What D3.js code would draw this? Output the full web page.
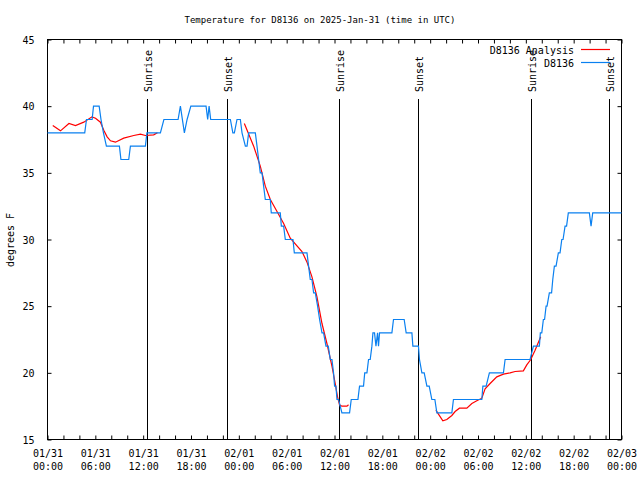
<!DOCTYPE html>
<html>
<head>
<meta charset="utf-8">
<script src="https://cdn.jsdelivr.net/npm/d3@7"></script>
<style>
  html, body { margin: 0; padding: 0; background: #fff; }
  svg { display: block; }
  text { font-family: "DejaVu Sans Mono", "Liberation Mono", monospace; fill: #000; }
</style>
</head>
<body>
<svg id="chart" width="640" height="480"></svg>
<script>
// ---- Data (hours since 2025-01-31 00:00 UTC) ----
const titleText = "Temperature for D8136 on 2025-Jan-31 (time in UTC)";
const yLabel = "degrees F";
const seriesNames = ["D8136 Analysis", "D8136"];
const yTicks = [15, 20, 25, 30, 35, 40, 45];

const obsHours = [0, 4.67, 4.89, 5.60, 5.77, 6.48, 6.71, 7.02, 7.39, 9.02, 9.21, 10.19, 10.40, 12.28, 12.47, 14.16, 14.60, 16.38, 16.67, 17.17, 17.51, 17.98, 19.89, 20.09, 20.27, 20.47, 22.94, 23.25, 23.44, 23.77, 24.19, 24.40, 24.82, 25.03, 25.23, 26.07, 26.28, 26.48, 26.69, 26.91, 27.11, 27.32, 27.95, 28.07, 29.20, 29.33, 29.62, 29.83, 30.79, 30.96, 32.55, 32.75, 32.96, 33.17, 33.38, 33.59, 33.88, 34.13, 34.43, 34.63, 34.93, 35.22, 35.47, 35.68, 35.88, 36.01, 36.18, 36.31, 36.51, 36.93, 37.89, 38.10, 38.94, 39.14, 39.64, 39.79, 40.07, 40.27, 40.48, 40.69, 40.82, 41.02, 41.20, 41.40, 41.52, 41.65, 43.20, 43.40, 44.74, 44.99, 45.71, 45.83, 46.53, 46.66, 46.96, 47.25, 47.59, 47.88, 48.21, 48.59, 48.84, 50.72, 50.92, 54.48, 54.61, 55.02, 55.43, 57.19, 57.40, 60.53, 60.95, 61.70, 61.82, 62.00, 62.20, 62.35, 62.54, 62.66, 62.95, 63.23, 63.38, 63.58, 63.79, 64.08, 64.29, 64.51, 64.67, 64.92, 65.11, 65.33, 67.97, 68.18, 68.39, 72];
const obsTemp = [38, 38, 39, 39, 40, 40, 39, 38, 37, 37, 36, 36, 37, 37, 38, 38, 39, 39, 40, 38, 39, 40, 40, 39, 40, 39, 39, 38, 38, 39, 39, 38, 37, 37, 38, 38, 37, 36, 35, 35, 34, 33, 33, 32, 32, 31, 31, 30, 30, 29, 29, 28, 27, 27, 26, 26, 25, 24, 23, 23, 22, 22, 21, 21, 20, 19, 19, 18, 18, 17, 17, 18, 18, 19, 19, 20, 20, 21, 21, 22, 23, 23, 22, 23, 22, 23, 23, 24, 24, 23, 23, 22, 22, 21, 20, 20, 19, 19, 18, 18, 17, 17, 18, 18, 19, 19, 20, 20, 21, 21, 22, 22, 23, 23, 24, 24, 25, 25, 26, 26, 27, 28, 28, 29, 29, 30, 30, 31, 31, 32, 32, 31, 32, 32];

// analysis (null = gap between runs)
const anaHours = [0.66, 1.63, 2.69, 3.51, 4.55, 5.58, 6.02, 6.64, 7.06, 7.48, 7.90, 8.52, 9.56, 10.82, 11.66, 12.28, 13.32, 13.79, null,
  24.69, 25.86, 26.69, 27.32, 27.95, 28.79, 29.62, 30.45, 31.92, 32.55, 33.17, 33.80, 34.43, 35.05, 35.68, 36.09, 36.38, 36.63, 36.93, 37.56, 37.76, null,
  48.72, 49.04, 49.59, 50.09, 50.72, 51.13, 51.67, 52.60, 53.23, 53.85, 54.48, 54.89, 55.52, 56.36, 57.19, 58.03, 58.65, 59.69, 60.12, 60.62, 61.16, 61.87];
const anaTemp = [38.55, 38.15, 38.7, 38.55, 38.8, 39.2, 39.1, 38.8, 38.2, 37.7, 37.4, 37.3, 37.6, 37.8, 37.9, 37.8, 37.85, 38.0, null,
  38.7, 37.0, 35.5, 34.0, 33.0, 32.1, 31.2, 30.1, 29.1, 28.3, 27.2, 25.7, 23.7, 22.2, 20.5, 19.2, 18.2, 17.6, 17.5, 17.5, 17.6, null,
  17.2, 16.9, 16.4, 16.5, 16.8, 17.1, 17.35, 17.35, 17.7, 17.9, 18.1, 18.8, 19.2, 19.7, 19.9, 20.0, 20.1, 20.15, 20.6, 21.0, 21.7, 22.7];

const sunHours = [12.53, 22.47, 36.51, 46.53, 60.62, 70.47];
const sunLabels = ["Sunrise", "Sunset", "Sunrise", "Sunset", "Sunrise", "Sunset"];

// ---- Chart ----
const base = Date.UTC(2025, 0, 31);
const toDate = h => new Date(base + h * 3600e3);

const svg = d3.select("#chart");
const L = 47.5, R = 621.5, T = 39.5, B = 439.5;

const x = d3.scaleUtc().domain([toDate(0), toDate(72)]).range([L, R]);
const y = d3.scaleLinear().domain([15, 45]).range([B, T]);

const fmtDay = d3.utcFormat("%m/%d"), fmtTime = d3.utcFormat("%H:%M");

// bottom axis
const gx = svg.append("g").attr("transform", `translate(0,${B})`)
  .call(d3.axisBottom(x).ticks(d3.utcHour.every(2)).tickSizeInner(-4).tickSizeOuter(0).tickPadding(0)
    .tickFormat(d => d.getUTCHours() % 6 === 0 ? "x" : ""));
gx.select(".domain").remove();
gx.selectAll(".tick line").attr("stroke", "#000");
gx.selectAll(".tick text").each(function(d) {
  const t = d3.select(this);
  if (t.text() === "") return;
  t.text(null).attr("y", 0).attr("dy", null).attr("font-size", 10).attr("font-family", null);
  t.append("tspan").attr("x", 0).attr("y", 17.5).text(fmtDay(d));
  t.append("tspan").attr("x", 0).attr("y", 30.5).text(fmtTime(d));
});

// top axis ticks
const gxt = svg.append("g").attr("transform", `translate(0,${T})`)
  .call(d3.axisTop(x).ticks(d3.utcHour.every(2)).tickSizeInner(-4).tickSizeOuter(0).tickFormat(""));
gxt.select(".domain").remove();
gxt.selectAll(".tick line").attr("stroke", "#000");

// left axis
const gy = svg.append("g").attr("transform", `translate(${L},0)`)
  .call(d3.axisLeft(y).tickValues(yTicks).tickSizeInner(-4).tickSizeOuter(0).tickPadding(13));
gy.select(".domain").remove();
gy.selectAll(".tick line").attr("stroke", "#000");
gy.selectAll(".tick text").attr("font-size", 10).attr("font-family", null).attr("dy", "0.35em");

// right axis ticks
const gyr = svg.append("g").attr("transform", `translate(${R},0)`)
  .call(d3.axisRight(y).tickValues(yTicks).tickSizeInner(-4).tickSizeOuter(0).tickFormat(""));
gyr.select(".domain").remove();
gyr.selectAll(".tick line").attr("stroke", "#000");

// frame
svg.append("rect").attr("x", L).attr("y", T).attr("width", R - L).attr("height", B - T)
  .attr("fill", "none").attr("stroke", "#000").attr("stroke-width", 1);

// sunrise / sunset lines
sunHours.forEach((h, i) => {
  const xp = Math.round(x(toDate(h))) + 0.5;
  svg.append("line").attr("x1", xp).attr("x2", xp).attr("y1", 99).attr("y2", B)
    .attr("stroke", "#000").attr("stroke-width", 1);
  svg.append("text").attr("transform", `translate(${xp + 4.5},92) rotate(-90)`)
    .attr("font-size", 10).text(sunLabels[i]);
});

// analysis line
const anaData = anaHours.map((h, i) => ({h, v: anaTemp[i]}));
const line = d3.line().defined(d => d.h !== null && d.v !== null)
  .x(d => x(toDate(d.h))).y(d => y(d.v));
svg.append("path").datum(anaData).attr("d", line)
  .attr("fill", "none").attr("stroke", "#ff0000").attr("stroke-width", 1.2);

// observation line
const obsData = obsHours.map((h, i) => ({h, v: obsTemp[i]}));
svg.append("path").datum(obsData).attr("d", line)
  .attr("fill", "none").attr("stroke", "#0a80f0").attr("stroke-width", 1.2);

// legend
const legColors = ["#ff0000", "#0a80f0"];
seriesNames.forEach((name, i) => {
  const yy = 54 + i * 13;
  svg.append("text").attr("x", 574).attr("y", yy).attr("text-anchor", "end").attr("font-size", 10).text(name);
  svg.append("line").attr("x1", 581).attr("x2", 610).attr("y1", yy - 4.5).attr("y2", yy - 4.5)
    .attr("stroke", legColors[i]).attr("stroke-width", 1.2);
});

// title
svg.append("text").attr("x", 320).attr("y", 23).attr("text-anchor", "middle")
  .attr("font-size", 9).text(titleText);

// y label
svg.append("text").attr("transform", `translate(14,240) rotate(-90)`)
  .attr("text-anchor", "middle").attr("font-size", 10).text(yLabel);
</script>
</body>
</html>
